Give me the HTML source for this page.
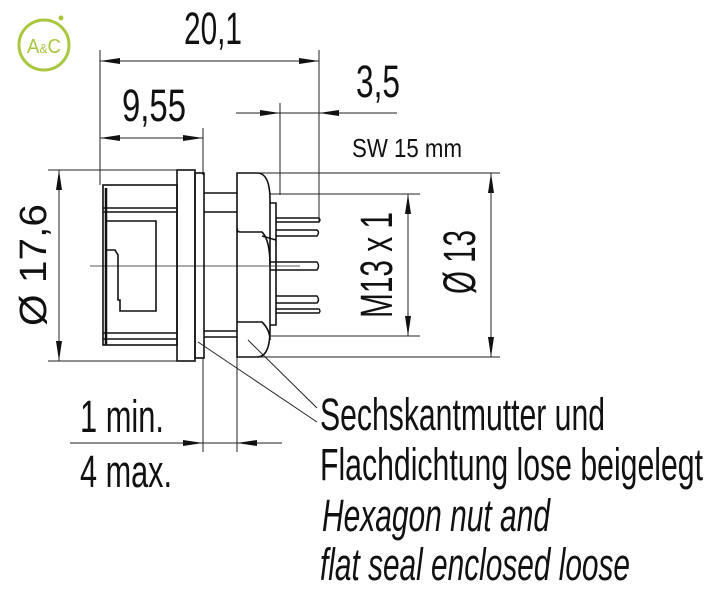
<!DOCTYPE html>
<html><head><meta charset="utf-8"><style>
html,body{margin:0;padding:0;background:#fff;}
svg{display:block;}
text{font-family:"Liberation Sans",sans-serif;fill:#111;}
</style></head><body>
<svg width="715" height="600" viewBox="0 0 715 600" xmlns="http://www.w3.org/2000/svg">
<defs>
<marker id="a" viewBox="0 0 20 6" refX="20" refY="3" markerWidth="20" markerHeight="6" markerUnits="userSpaceOnUse" orient="auto"><path d="M0,0 L20,3 L0,6 Z" fill="#111"/></marker>
</defs>
<circle cx="44" cy="45" r="25" fill="none" stroke="#a9c73c" stroke-width="3"/>
<circle cx="61" cy="18" r="2.5" fill="#a9c73c"/>
<text x="44" y="53" text-anchor="middle" font-size="20" style="fill:#a9c73c" textLength="34" lengthAdjust="spacingAndGlyphs">A<tspan font-size="13">&amp;</tspan>C</text>

<g stroke="#222" stroke-width="1" fill="none">
<line x1="100" y1="50" x2="100" y2="185"/>
<line x1="319" y1="50" x2="319" y2="222"/>
<line x1="203" y1="128" x2="203" y2="175"/>
<line x1="280" y1="103" x2="280" y2="195"/>
<line x1="48" y1="170" x2="178" y2="170"/>
<line x1="48" y1="361" x2="178" y2="361"/>
<line x1="255" y1="173" x2="500" y2="173"/>
<line x1="255" y1="357" x2="500" y2="357"/>
<line x1="270" y1="194" x2="420" y2="194"/>
<line x1="270" y1="336" x2="420" y2="336"/>
<line x1="203" y1="358" x2="203" y2="452"/>
<line x1="237" y1="357" x2="237" y2="452"/>
<line x1="200" y1="61" x2="319" y2="61" marker-end="url(#a)"/>
<line x1="200" y1="61" x2="100" y2="61" marker-end="url(#a)"/>
<line x1="150" y1="138" x2="203" y2="138" marker-end="url(#a)"/>
<line x1="150" y1="138" x2="100" y2="138" marker-end="url(#a)"/>
<line x1="236" y1="113" x2="280" y2="113" marker-end="url(#a)"/>
<line x1="397" y1="113" x2="319" y2="113" marker-end="url(#a)"/>
<line x1="280" y1="113" x2="319" y2="113"/>
<line x1="59" y1="265" x2="59" y2="170" marker-end="url(#a)"/>
<line x1="59" y1="265" x2="59" y2="361" marker-end="url(#a)"/>
<line x1="408" y1="265" x2="408" y2="194" marker-end="url(#a)"/>
<line x1="408" y1="265" x2="408" y2="336" marker-end="url(#a)"/>
<line x1="491" y1="265" x2="491" y2="173" marker-end="url(#a)"/>
<line x1="491" y1="265" x2="491" y2="357" marker-end="url(#a)"/>
<line x1="70" y1="443" x2="203" y2="443" marker-end="url(#a)"/>
<line x1="282" y1="443" x2="237" y2="443" marker-end="url(#a)"/>
<line x1="203" y1="443" x2="237" y2="443"/>
<line x1="198" y1="342" x2="317" y2="422"/>
<line x1="248" y1="340" x2="317" y2="408"/>
<line x1="90" y1="266" x2="300" y2="266" stroke-width="0.8"/>
</g>

<g stroke="#111" stroke-width="1.6" fill="none">
<rect x="103" y="185" width="74" height="160"/>
<line x1="103" y1="208" x2="177" y2="208"/>
<line x1="103" y1="212" x2="177" y2="212"/>
<line x1="103" y1="333" x2="177" y2="333"/>
<line x1="103" y1="339" x2="177" y2="339"/>
<line x1="106" y1="188" x2="106" y2="345" stroke-width="2.5"/>
<path d="M105,221 H156 V311 H120 V300 H118 V255 L115,250 H105"/>
<rect x="177" y="170" width="18" height="191"/>
<rect x="195" y="173" width="9" height="185"/>
<line x1="204" y1="193" x2="237" y2="193"/>
<line x1="204" y1="212" x2="237" y2="212"/>
<line x1="204" y1="337" x2="237" y2="337"/>
<line x1="204" y1="331" x2="237" y2="331"/>
<path d="M237,173 H257 Q270,173 270,200 V330 Q270,357 257,357 H237 Z"/>
<path d="M237,228 Q237,232 240,232 H262 Q270,240 270,265"/>
<path d="M237,322 H262 Q270,330 270,340"/>
<path d="M270,203 H276 V325 H270"/>
<line x1="262" y1="236" x2="276" y2="240"/>
</g>
<g stroke="#111" stroke-width="1.4" fill="none">
<path d="M276,218 H319 Q321,220 319,222 H276"/>
<path d="M276,230 H317 Q320,232 317,236 H276"/>
<path d="M270,262 H317 Q320,266 317,270 H270"/>
<path d="M276,296 H317 Q320,300 317,303 H276"/>
<path d="M276,309 H319 Q321,311 319,313 H276"/>
</g>

<g font-size="45">
<text x="213" y="44" text-anchor="middle" textLength="58" lengthAdjust="spacingAndGlyphs">20,1</text>
<text x="154" y="121" text-anchor="middle" textLength="64" lengthAdjust="spacingAndGlyphs">9,55</text>
<text x="378" y="97" text-anchor="middle" textLength="44" lengthAdjust="spacingAndGlyphs">3,5</text>
<text x="80" y="432" textLength="84" lengthAdjust="spacingAndGlyphs">1 min.</text>
<text x="80" y="487" textLength="92" lengthAdjust="spacingAndGlyphs">4 max.</text>
<text transform="translate(46,265) rotate(-90)" text-anchor="middle" font-size="38" textLength="122" lengthAdjust="spacingAndGlyphs">Ø 17,6</text>
<text transform="translate(392,265) rotate(-90)" text-anchor="middle" textLength="106" lengthAdjust="spacingAndGlyphs">M13 x 1</text>
<text transform="translate(475,262) rotate(-90)" text-anchor="middle" textLength="64" lengthAdjust="spacingAndGlyphs">Ø 13</text>
</g>
<text x="352" y="157" font-size="26" textLength="110" lengthAdjust="spacingAndGlyphs">SW 15 mm</text>

<g font-size="45">
<text x="320" y="430" textLength="285" lengthAdjust="spacingAndGlyphs">Sechskantmutter und</text>
<text x="320" y="480" textLength="383" lengthAdjust="spacingAndGlyphs">Flachdichtung lose beigelegt</text>
<text x="322" y="531" font-style="italic" textLength="228" lengthAdjust="spacingAndGlyphs">Hexagon nut and</text>
<text x="320" y="580" font-style="italic" textLength="310" lengthAdjust="spacingAndGlyphs">flat seal enclosed loose</text>
</g>
</svg>
</body></html>
